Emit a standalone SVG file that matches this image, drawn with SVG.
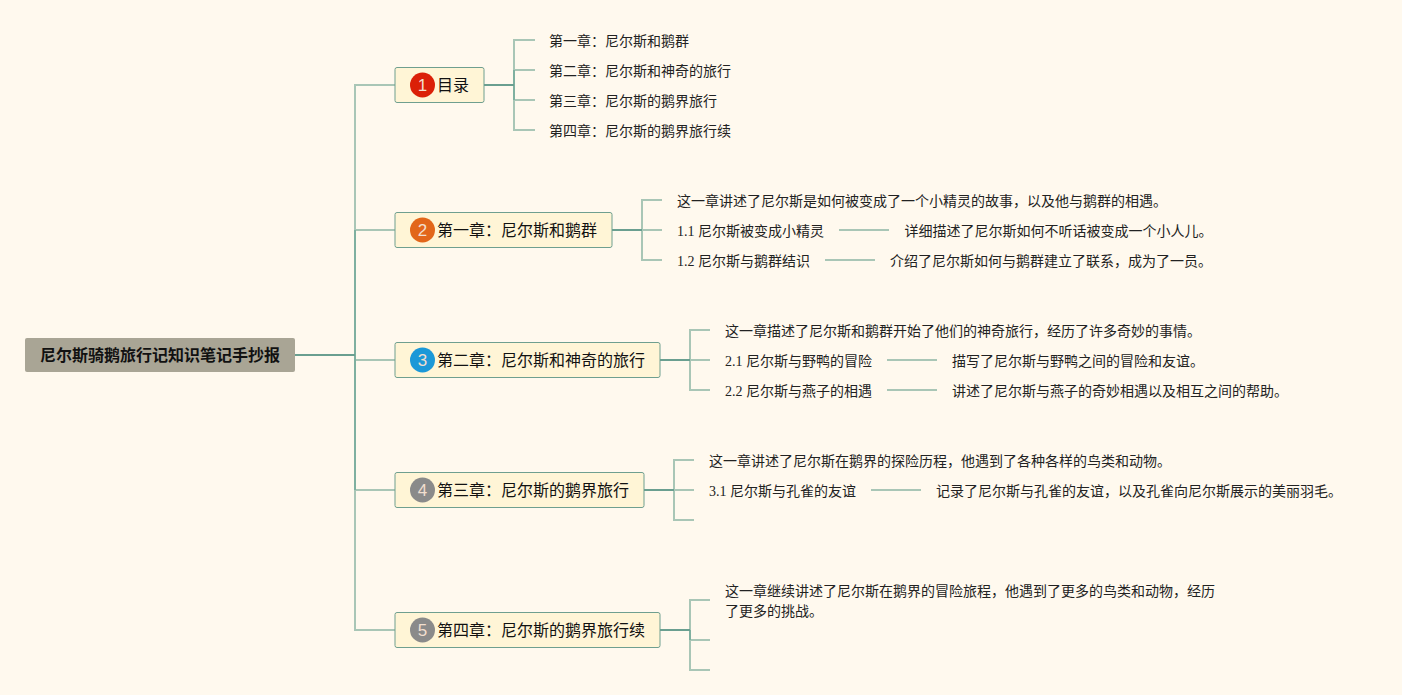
<svg xmlns="http://www.w3.org/2000/svg" width="1402" height="695" viewBox="0 0 1402 695">
<style>
text{font-family:"Liberation Serif","Noto Sans CJK SC",serif;fill:#222}
.leaf{font-size:14px}
.node{font-size:16px;fill:#111}
.root{font-size:16px;font-weight:bold;fill:#111}
.num{font-family:"Liberation Sans","Noto Sans CJK SC",sans-serif;font-size:17px;fill:#f2dfcf;text-anchor:middle}
.box{fill:#fff5d6;stroke:#6f9f8f;stroke-width:1}
.thin{fill:none;stroke:#a9c6b6;stroke-width:2}
.mid{fill:none;stroke:#7fb0a0;stroke-width:2}
.thick{fill:none;stroke:#6a9f90;stroke-width:2}
</style>
<rect width="1402" height="695" fill="#fff9ee"/>
<g id="connectors">
<path class="thin" d="M395 85H355V630H395M355 230H395M355 360H395M355 490H395"/>
<path class="mid" d="M355 230V490"/>
<path class="thick" d="M295 355H355"/>
<path class="thin" d="M535 40H514V130H535M514 70H535M514 100H535"/>
<path class="mid" d="M514 70V100"/>
<path class="thick" d="M484 85H514"/>
<path class="thin" d="M662 200H642V260H662M642 230H662"/>
<path class="thick" d="M612 230H642"/>
<path class="thin" d="M839 230H889M825 260H875"/>
<path class="thin" d="M710 330H690V390H710M690 360H710"/>
<path class="thick" d="M660 360H690"/>
<path class="thin" d="M887 360H937M887 390H937"/>
<path class="thin" d="M694 460H674V520H694M674 490H694"/>
<path class="thick" d="M644 490H674"/>
<path class="thin" d="M871 490H921"/>
<path class="thin" d="M710 600H690V670H710M690 640H710"/>
<path class="mid" d="M690 630V640"/>
<path class="thick" d="M660 630H690"/>
</g>
<g id="root">
<rect x="25" y="338" width="270" height="34" rx="2" fill="#a9a595"/>
<text class="root" x="40" y="361">尼尔斯骑鹅旅行记知识笔记手抄报</text>
</g>
<g id="node1">
<rect class="box" x="395" y="67.500" width="89" height="35" rx="2"/>
<circle cx="422.500" cy="85" r="12.500" fill="#db2008"/>
<text class="num" x="422.500" y="91">1</text>
<text class="node" x="437" y="91">目录</text>
</g>
<g id="node2">
<rect class="box" x="395" y="212.500" width="217" height="35" rx="2"/>
<circle cx="422.500" cy="230" r="12.500" fill="#e2661a"/>
<text class="num" x="422.500" y="236">2</text>
<text class="node" x="437" y="236">第一章：尼尔斯和鹅群</text>
</g>
<g id="node3">
<rect class="box" x="395" y="342.500" width="265" height="35" rx="2"/>
<circle cx="422.500" cy="360" r="12.500" fill="#1b98d8"/>
<text class="num" x="422.500" y="366">3</text>
<text class="node" x="437" y="366">第二章：尼尔斯和神奇的旅行</text>
</g>
<g id="node4">
<rect class="box" x="395" y="472.500" width="249" height="35" rx="2"/>
<circle cx="422.500" cy="490" r="12.500" fill="#8a8a8a"/>
<text class="num" x="422.500" y="496">4</text>
<text class="node" x="437" y="496">第三章：尼尔斯的鹅界旅行</text>
</g>
<g id="node5">
<rect class="box" x="395" y="612.500" width="265" height="35" rx="2"/>
<circle cx="422.500" cy="630" r="12.500" fill="#8a8a8a"/>
<text class="num" x="422.500" y="636">5</text>
<text class="node" x="437" y="636">第四章：尼尔斯的鹅界旅行续</text>
</g>
<g id="leaves1">
<text class="leaf" x="549" y="46">第一章：尼尔斯和鹅群</text>
<text class="leaf" x="549" y="76">第二章：尼尔斯和神奇的旅行</text>
<text class="leaf" x="549" y="106">第三章：尼尔斯的鹅界旅行</text>
<text class="leaf" x="549" y="136">第四章：尼尔斯的鹅界旅行续</text>
</g>
<g id="leaves2">
<text class="leaf" x="677" y="206">这一章讲述了尼尔斯是如何被变成了一个小精灵的故事，以及他与鹅群的相遇。</text>
<text class="leaf" x="677" y="236">1.1 尼尔斯被变成小精灵</text>
<text class="leaf" x="904.500" y="236">详细描述了尼尔斯如何不听话被变成一个小人儿。</text>
<text class="leaf" x="677" y="266">1.2 尼尔斯与鹅群结识</text>
<text class="leaf" x="890" y="266">介绍了尼尔斯如何与鹅群建立了联系，成为了一员。</text>
</g>
<g id="leaves3">
<text class="leaf" x="725" y="336">这一章描述了尼尔斯和鹅群开始了他们的神奇旅行，经历了许多奇妙的事情。</text>
<text class="leaf" x="725" y="366">2.1 尼尔斯与野鸭的冒险</text>
<text class="leaf" x="952" y="366">描写了尼尔斯与野鸭之间的冒险和友谊。</text>
<text class="leaf" x="725" y="396">2.2 尼尔斯与燕子的相遇</text>
<text class="leaf" x="952" y="396">讲述了尼尔斯与燕子的奇妙相遇以及相互之间的帮助。</text>
</g>
<g id="leaves4">
<text class="leaf" x="709" y="466">这一章讲述了尼尔斯在鹅界的探险历程，他遇到了各种各样的鸟类和动物。</text>
<text class="leaf" x="709" y="496">3.1 尼尔斯与孔雀的友谊</text>
<text class="leaf" x="936" y="496">记录了尼尔斯与孔雀的友谊，以及孔雀向尼尔斯展示的美丽羽毛。</text>
</g>
<g id="leaves5">
<text class="leaf" x="725" y="596">这一章继续讲述了尼尔斯在鹅界的冒险旅程，他遇到了更多的鸟类和动物，经历</text>
<text class="leaf" x="725" y="616">了更多的挑战。</text>
</g>
</svg>
